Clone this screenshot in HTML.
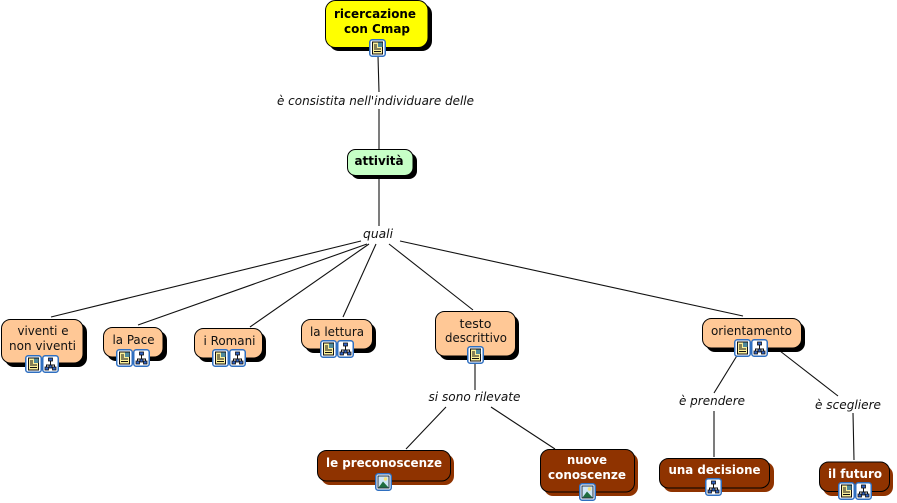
<!DOCTYPE html>
<html><head><meta charset="utf-8"><style>
html,body{margin:0;padding:0;background:#fff;width:897px;height:503px;overflow:hidden}
svg{display:block}
text{font-family:"DejaVu Sans","Liberation Sans",sans-serif;font-size:12.5px;text-anchor:middle;fill:#111}
.b{font-weight:bold;fill:#000}
.w{fill:#fff;font-weight:bold}
.i{font-style:italic;fill:#111}
.l{stroke:#111;stroke-width:1.1;fill:none}
</style></head><body>
<svg width="897" height="503" viewBox="0 0 897 503" xmlns="http://www.w3.org/2000/svg">
<defs>
<g id="fr"><rect x="0.75" y="0.75" width="15.5" height="16.5" rx="2.5" fill="#fff" stroke="#2f6fc0" stroke-width="1.5"/></g>
<g id="doc"><use href="#fr"/>
<rect x="3.5" y="3" width="10" height="12" fill="#fbf09a" stroke="#111" stroke-width="1"/>
<path d="M5 6h3M5 8h3M5 10h7M5 12.500h7" stroke="#111" stroke-width="1.100"/>
<rect x="9" y="3.500" width="4.500" height="4.500" fill="#4f8a9c"/></g>
<g id="tree"><use href="#fr"/>
<path d="M8.500 6v4M4.500 12v-2h8v2" stroke="#111" fill="none"/>
<rect x="6.500" y="3" width="4" height="3" fill="#2f62c4" stroke="#111" stroke-width=".8"/>
<rect x="3" y="12" width="3.500" height="3" fill="#2f62c4" stroke="#111" stroke-width=".8"/>
<rect x="10.500" y="12" width="3.500" height="3" fill="#2f62c4" stroke="#111" stroke-width=".8"/>
<rect x="7" y="10" width="3" height="3" fill="#2f62c4" stroke="#111" stroke-width=".8"/></g>
<g id="pic"><use href="#fr"/>
<rect x="3" y="3" width="11" height="12" fill="#cfe6f5" stroke="#123" stroke-width=".9"/>
<circle cx="10.500" cy="6" r="1.700" fill="#f4e27a"/>
<path d="M3.500 14.500L8 8.500l5.500 6z" fill="#1f6d3f"/></g>
</defs>

<g class="l">
<path d="M378 56L379 92M379 109L379 149M379 176L379 226"/>
<path d="M361 241L51 317M367 244L138 325M369 244L250 327M376 244L343 317M389 244L473 310M400 241L743 316"/>
<path d="M475 363L475 390M446 407L406 449M491 407L555 449"/>
<path d="M738 354L714 393M780 351L838 396M714 411L714 457M853 413L854 460"/>
</g>

<text class="i" x="375.500" y="105" textLength="197" lengthAdjust="spacingAndGlyphs">è consistita nell'individuare delle</text>
<text class="i" x="378" y="238" textLength="30" lengthAdjust="spacingAndGlyphs">quali</text>
<text class="i" x="474.500" y="401" textLength="92" lengthAdjust="spacingAndGlyphs">si sono rilevate</text>
<text class="i" x="712" y="405" textLength="66" lengthAdjust="spacingAndGlyphs">è prendere</text>
<text class="i" x="848" y="409" textLength="66" lengthAdjust="spacingAndGlyphs">è scegliere</text>

<!-- ricercazione -->
<rect x="329" y="4" width="103" height="47" rx="10" fill="#000"/>
<rect x="325.500" y="0.500" width="102.500" height="47" rx="10" fill="#ff0" stroke="#000"/>
<text class="b" x="375" y="18" textLength="82" lengthAdjust="spacingAndGlyphs">ricercazione</text>
<text class="b" x="377" y="33" textLength="66" lengthAdjust="spacingAndGlyphs">con Cmap</text>
<use href="#doc" x="369" y="39"/>

<!-- attivita -->
<rect x="351" y="153" width="66" height="26" rx="8" fill="#000"/>
<rect x="347.500" y="149.500" width="65.500" height="26" rx="8" fill="#c6ffc6" stroke="#000"/>
<text class="b" x="379" y="165" textLength="49" lengthAdjust="spacingAndGlyphs">attività</text>

<!-- viventi -->
<rect x="5" y="323" width="82" height="44" rx="9" fill="#000"/>
<rect x="1.500" y="319.500" width="81.500" height="43.500" rx="9" fill="#ffc896" stroke="#000"/>
<text x="43" y="335" textLength="51" lengthAdjust="spacingAndGlyphs">viventi e</text>
<text x="42.500" y="350" textLength="67" lengthAdjust="spacingAndGlyphs">non viventi</text>
<use href="#doc" x="25" y="355"/><use href="#tree" x="42" y="355"/>

<!-- la Pace -->
<rect x="107" y="331" width="60" height="30" rx="9" fill="#000"/>
<rect x="103.500" y="327.500" width="59.500" height="29.500" rx="9" fill="#ffc896" stroke="#000"/>
<text x="133.500" y="344" textLength="42" lengthAdjust="spacingAndGlyphs">la Pace</text>
<use href="#doc" x="116" y="349"/><use href="#tree" x="133" y="349"/>

<!-- i Romani -->
<rect x="198" y="332" width="68" height="30" rx="9" fill="#000"/>
<rect x="194.500" y="328.500" width="68" height="29.500" rx="9" fill="#ffc896" stroke="#000"/>
<text x="229.500" y="345" textLength="52" lengthAdjust="spacingAndGlyphs">i Romani</text>
<use href="#doc" x="212" y="349"/><use href="#tree" x="229" y="349"/>

<!-- la lettura -->
<rect x="305" y="323" width="71" height="30" rx="9" fill="#000"/>
<rect x="301.500" y="319.500" width="71" height="29.500" rx="9" fill="#ffc896" stroke="#000"/>
<text x="337" y="336" textLength="54" lengthAdjust="spacingAndGlyphs">la lettura</text>
<use href="#doc" x="320" y="340"/><use href="#tree" x="337" y="340"/>

<!-- testo -->
<rect x="439" y="315" width="80" height="45" rx="9" fill="#000"/>
<rect x="435.500" y="311.500" width="80" height="44.500" rx="9" fill="#ffc896" stroke="#000"/>
<text x="475.500" y="328" textLength="32" lengthAdjust="spacingAndGlyphs">testo</text>
<text x="476" y="342" textLength="62" lengthAdjust="spacingAndGlyphs">descrittivo</text>
<use href="#doc" x="467" y="346"/>

<!-- orientamento -->
<rect x="706" y="322" width="99" height="30" rx="9" fill="#000"/>
<rect x="702.500" y="318.500" width="99" height="29.500" rx="9" fill="#ffc896" stroke="#000"/>
<text x="751.500" y="335" textLength="81" lengthAdjust="spacingAndGlyphs">orientamento</text>
<use href="#doc" x="734" y="339"/><use href="#tree" x="751" y="339"/>

<!-- le preconoscenze -->
<rect x="321" y="454" width="133" height="31" rx="9" fill="#8f3300"/>
<rect x="317.500" y="450.500" width="133" height="30.500" rx="9" fill="#8f3300" stroke="#000"/>
<text class="w" x="384" y="467" textLength="116" lengthAdjust="spacingAndGlyphs">le preconoscenze</text>
<use href="#pic" x="375" y="473"/>

<!-- nuove conoscenze -->
<rect x="544" y="453" width="94" height="43" rx="9" fill="#8f3300"/>
<rect x="540.500" y="449.500" width="94" height="42.500" rx="9" fill="#8f3300" stroke="#000"/>
<text class="w" x="587" y="464" textLength="40" lengthAdjust="spacingAndGlyphs">nuove</text>
<text class="w" x="587" y="479" textLength="78" lengthAdjust="spacingAndGlyphs">conoscenze</text>
<use href="#pic" x="579" y="483"/>

<!-- una decisione -->
<rect x="663" y="462" width="111" height="30" rx="9" fill="#8f3300"/>
<rect x="659.500" y="458.500" width="110" height="29.500" rx="9" fill="#8f3300" stroke="#000"/>
<text class="w" x="714.500" y="474" textLength="92" lengthAdjust="spacingAndGlyphs">una decisione</text>
<use href="#tree" x="705" y="478"/>

<!-- il futuro -->
<rect x="823" y="466" width="70" height="30" rx="9" fill="#8f3300"/>
<rect x="819.500" y="462" width="70" height="29.500" rx="9" fill="#8f3300" stroke="#000"/>
<text class="w" x="855" y="478" textLength="54" lengthAdjust="spacingAndGlyphs">il futuro</text>
<use href="#doc" x="838" y="482"/><use href="#tree" x="855" y="482"/>
</svg>
</body></html>
